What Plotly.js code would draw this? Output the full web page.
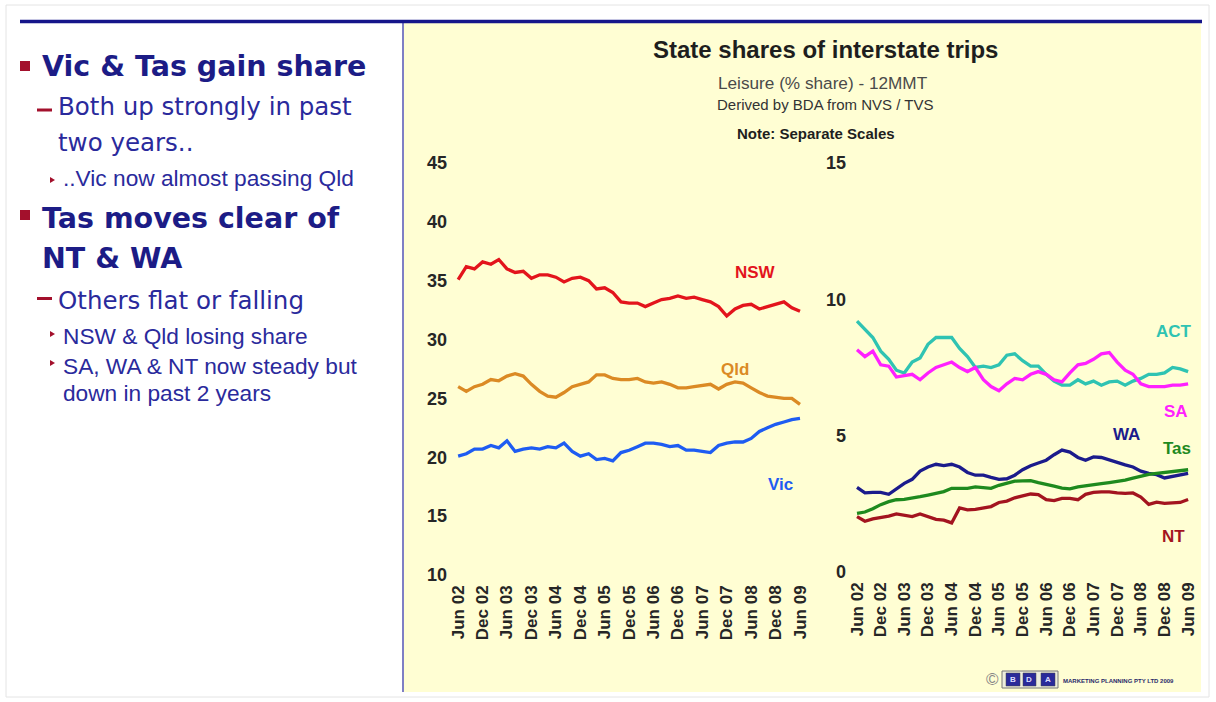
<!DOCTYPE html>
<html>
<head>
<meta charset="utf-8">
<script src="https://cdn.plot.ly/plotly-3.0.1.min.js"></script>
<style>html,body{margin:0;padding:0;background:#fff;}#chart{width:1216px;height:702px;}</style>
</head>
<body>
<div id="chart"></div>
<script>
// ---- data (bi-monthly readings, Jun 02 .. Jun 09) ----
const months = ["2002-06-01","2002-08-01","2002-10-01","2002-12-01","2003-02-01","2003-04-01","2003-06-01","2003-08-01","2003-10-01","2003-12-01","2004-02-01","2004-04-01","2004-06-01","2004-08-01","2004-10-01","2004-12-01","2005-02-01","2005-04-01","2005-06-01","2005-08-01","2005-10-01","2005-12-01","2006-02-01","2006-04-01","2006-06-01","2006-08-01","2006-10-01","2006-12-01","2007-02-01","2007-04-01","2007-06-01","2007-08-01","2007-10-01","2007-12-01","2008-02-01","2008-04-01","2008-06-01","2008-08-01","2008-10-01","2008-12-01","2009-02-01","2009-04-01","2009-06-01"];

const nsw = [35.1,36.2,36.0,36.6,36.4,36.8,36.0,35.7,35.8,35.2,35.5,35.5,35.3,34.9,35.2,35.3,35.0,34.3,34.4,34.0,33.2,33.1,33.1,32.8,33.1,33.4,33.5,33.7,33.5,33.6,33.4,33.2,32.8,32.0,32.6,32.9,33.0,32.6,32.8,33.0,33.2,32.7,32.4];
const qld = [26.0,25.6,26.0,26.2,26.6,26.5,26.9,27.1,26.9,26.2,25.6,25.2,25.1,25.5,26.0,26.2,26.4,27.0,27.0,26.7,26.6,26.6,26.7,26.4,26.3,26.4,26.2,25.9,25.9,26.0,26.1,26.2,25.8,26.2,26.4,26.3,25.9,25.5,25.2,25.1,25.0,25.0,24.5];
const vic = [20.1,20.3,20.7,20.7,21.0,20.8,21.4,20.5,20.7,20.8,20.7,20.9,20.8,21.2,20.5,20.1,20.3,19.8,19.9,19.7,20.4,20.6,20.9,21.2,21.2,21.1,20.9,21.0,20.6,20.6,20.5,20.4,21.0,21.2,21.3,21.3,21.6,22.2,22.5,22.8,23.0,23.2,23.3];

const act = [9.2,8.9,8.6,8.1,7.8,7.4,7.3,7.7,7.85,8.35,8.6,8.6,8.6,8.2,7.9,7.5,7.55,7.5,7.6,7.95,8.0,7.75,7.55,7.55,7.25,7.0,6.85,6.85,7.05,6.9,7.0,6.85,6.97,7.0,6.85,7.0,7.1,7.25,7.25,7.3,7.5,7.45,7.35];
const sa  = [8.15,7.9,8.1,7.6,7.55,7.15,7.2,7.25,7.05,7.3,7.5,7.6,7.7,7.5,7.35,7.5,7.05,6.8,6.65,6.9,7.1,7.05,7.25,7.35,7.25,7.05,6.97,7.3,7.6,7.65,7.8,8.0,8.05,7.7,7.4,7.25,6.9,6.8,6.8,6.8,6.85,6.85,6.9];
const wa  = [3.1,2.9,2.92,2.92,2.85,3.05,3.25,3.4,3.7,3.85,3.95,3.9,3.95,3.85,3.65,3.55,3.55,3.47,3.4,3.42,3.55,3.75,3.9,4.0,4.1,4.3,4.47,4.4,4.2,4.1,4.22,4.2,4.1,4.0,3.93,3.85,3.7,3.62,3.57,3.45,3.5,3.57,3.62];
const tas = [2.15,2.2,2.32,2.47,2.58,2.65,2.66,2.7,2.76,2.82,2.88,2.95,3.07,3.07,3.07,3.12,3.08,3.07,3.18,3.24,3.33,3.34,3.35,3.28,3.2,3.15,3.08,3.05,3.12,3.15,3.2,3.24,3.28,3.31,3.37,3.44,3.52,3.58,3.62,3.66,3.69,3.72,3.75];
const nt  = [2.03,1.86,1.95,2.0,2.05,2.13,2.08,2.03,2.13,2.03,1.93,1.9,1.8,2.35,2.28,2.3,2.34,2.4,2.55,2.6,2.72,2.78,2.86,2.84,2.65,2.62,2.7,2.7,2.65,2.85,2.92,2.94,2.94,2.9,2.88,2.9,2.75,2.48,2.56,2.52,2.52,2.55,2.66];

const tickDates  = ["2002-06-01","2002-12-01","2003-06-01","2003-12-01","2004-06-01","2004-12-01","2005-06-01","2005-12-01","2006-06-01","2006-12-01","2007-06-01","2007-12-01","2008-06-01","2008-12-01","2009-06-01"];
const tickLabels = ["Jun 02","Dec 02","Jun 03","Dec 03","Jun 04","Dec 04","Jun 05","Dec 05","Jun 06","Dec 06","Jun 07","Dec 07","Jun 08","Dec 08","Jun 09"];

const leftSeries  = [{name:"NSW", y:nsw, color:"#E3141C"},{name:"Qld", y:qld, color:"#DB8A24"},{name:"Vic", y:vic, color:"#1E5CF2"}];
const rightSeries = [{name:"ACT", y:act, color:"#2FC3B2"},{name:"SA", y:sa, color:"#FF20FF"},{name:"WA", y:wa, color:"#1B1B8C"},{name:"Tas", y:tas, color:"#1E8A1E"},{name:"NT", y:nt, color:"#A3141F"}];

// ---- layout helpers ----
const W = 1216, H = 702;
const X = p => p / W;
const Y = p => 1 - p / H;
const CH = "Liberation Sans, Arial, sans-serif";
const TXT = "DejaVu Sans, Verdana, sans-serif";

const traces = [];
leftSeries.forEach(s => traces.push({x: months, y: s.y, type: "scatter", mode: "lines", name: s.name,
  line: {color: s.color, width: 3.3}, xaxis: "x", yaxis: "y", hoverinfo: "skip"}));
rightSeries.forEach(s => traces.push({x: months, y: s.y, type: "scatter", mode: "lines", name: s.name,
  line: {color: s.color, width: 3.3}, xaxis: "x2", yaxis: "y2", hoverinfo: "skip"}));

const xCommon = {type: "date", range: ["2002-05-01","2009-07-01"], tickmode: "array", tickvals: tickDates, ticktext: tickLabels,
  tickangle: -90, tickfont: {family: CH, size: 17, color: "#262626", weight: "bold"}, showgrid: false, zeroline: false,
  showline: false, ticks: "", ticklabelstandoff: 6, fixedrange: true};
const yCommon = {dtick: 5, tickfont: {family: CH, size: 18, color: "#262626", weight: "bold"}, showgrid: false, zeroline: false,
  showline: false, ticks: "", ticklabelstandoff: 6, fixedrange: true};

const ann = [];
function t(text, px, py, size, color, opts) {
  ann.push(Object.assign({text: text, x: X(px), y: Y(py), xref: "paper", yref: "paper", showarrow: false,
    xanchor: "left", yanchor: "middle", font: {family: TXT, size: size, color: color}}, opts || {}));
}
const NAVY = "#1C1C86", NAVY2 = "#2A2A9C", RED = "#A3102C";
// left panel bullets
t("Vic &amp; Tas gain share", 40, 66, 28.5, NAVY, {font: {family: TXT, size: 28.5, color: NAVY, weight: "bold"}});
t("Both up strongly in past", 56, 107, 24.5, NAVY2);
t("two years..", 56, 142, 24.5, NAVY2);
t("..Vic now almost passing Qld", 61, 178, 22.7, NAVY2, {font: {family: CH, size: 22.7, color: NAVY2}});
t("Tas moves clear of", 40, 218, 28.5, NAVY, {font: {family: TXT, size: 28.5, color: NAVY, weight: "bold"}});
t("NT &amp; WA", 40, 258, 28.5, NAVY, {font: {family: TXT, size: 28.5, color: NAVY, weight: "bold"}});
t("Others flat or falling", 56, 300, 24.5, NAVY2);
t("NSW &amp; Qld losing share", 61, 336, 22.7, NAVY2, {font: {family: CH, size: 22.7, color: NAVY2}});
t("SA, WA &amp; NT now steady but", 61, 366, 22.7, NAVY2, {font: {family: CH, size: 22.7, color: NAVY2}});
t("down in past 2 years", 61, 393, 22.7, NAVY2, {font: {family: CH, size: 22.7, color: NAVY2}});

// chart titles
function c(text, px, py, size, color, bold) {
  ann.push({text: text, x: X(px), y: Y(py), xref: "paper", yref: "paper", showarrow: false, xanchor: "center", yanchor: "middle",
    font: {family: CH, size: size, color: color, weight: bold ? "bold" : "normal"}});
}
c("State shares of interstate trips", 825, 49, 24, "#1E1E1E", true);
c("Leisure (% share) - 12MMT", 823, 83, 17.2, "#4A4A4A", false);
c("Derived by BDA from NVS / TVS", 825, 104, 15, "#333333", false);
c("Note: Separate Scales", 816, 133, 15, "#1E1E1E", true);

// series labels
const seriesLabelPos = {NSW: [755, 272], Qld: [735, 369], Vic: [780, 485], ACT: [1174, 331], SA: [1176, 411], WA: [1126, 434], Tas: [1177, 448], NT: [1173, 536]};
leftSeries.concat(rightSeries).forEach(s => c(s.name, seriesLabelPos[s.name][0], seriesLabelPos[s.name][1], 17, s.color, true));

// logo
c("©", 992, 679, 17, "#888888", false);
c("B", 1013, 679, 8, "#DDDDFF", true);
c("D", 1029, 679, 8, "#DDDDFF", true);
c("A", 1048, 679, 8, "#DDDDFF", true);
ann.push({text: "MARKETING PLANNING PTY LTD 2009", x: X(1061), y: Y(681), xref: "paper", yref: "paper", showarrow: false,
  xanchor: "left", yanchor: "middle", font: {family: CH, size: 6, color: "#2A2A6A", weight: "bold"}});

const shapes = [
  {type: "rect", xref: "paper", yref: "paper", x0: X(6), x1: X(1209), y0: Y(5), y1: Y(697), line: {color: "#E4E4E4", width: 1}, fillcolor: "rgba(0,0,0,0)", layer: "below"},
  {type: "rect", xref: "paper", yref: "paper", x0: X(404), x1: X(1201), y0: Y(22), y1: Y(692), line: {width: 0}, fillcolor: "#FFFED3", layer: "below"},
  {type: "line", xref: "paper", yref: "paper", x0: X(403), x1: X(403), y0: Y(22), y1: Y(692), line: {color: "#7F7FC4", width: 2}, layer: "below"},
  {type: "line", xref: "paper", yref: "paper", x0: X(20), x1: X(1202), y0: Y(21.5), y1: Y(21.5), line: {color: "#15158A", width: 3.5}, layer: "below"},
  // bullets
  {type: "rect", xref: "paper", yref: "paper", x0: X(20), x1: X(30), y0: Y(61), y1: Y(71), line: {width: 0}, fillcolor: RED},
  {type: "rect", xref: "paper", yref: "paper", x0: X(20), x1: X(30), y0: Y(210), y1: Y(220), line: {width: 0}, fillcolor: RED},
  {type: "rect", xref: "paper", yref: "paper", x0: X(37), x1: X(52), y0: Y(108.5), y1: Y(111.5), line: {width: 0}, fillcolor: RED},
  {type: "rect", xref: "paper", yref: "paper", x0: X(37), x1: X(52), y0: Y(297), y1: Y(300), line: {width: 0}, fillcolor: RED},
  {type: "path", xref: "paper", yref: "paper", path: `M ${X(50)} ${Y(177)} L ${X(55)} ${Y(180)} L ${X(50)} ${Y(183)} Z`, line: {width: 0}, fillcolor: RED},
  {type: "path", xref: "paper", yref: "paper", path: `M ${X(50)} ${Y(331)} L ${X(55)} ${Y(334)} L ${X(50)} ${Y(337)} Z`, line: {width: 0}, fillcolor: RED},
  {type: "path", xref: "paper", yref: "paper", path: `M ${X(50)} ${Y(360)} L ${X(55)} ${Y(363)} L ${X(50)} ${Y(366)} Z`, line: {width: 0}, fillcolor: RED},
  // logo boxes
  {type: "rect", xref: "paper", yref: "paper", x0: X(1002), x1: X(1058), y0: Y(671), y1: Y(688), line: {color: "#777777", width: 1}, fillcolor: "#EDEDDD"},
  {type: "rect", xref: "paper", yref: "paper", x0: X(1006), x1: X(1020), y0: Y(673), y1: Y(686), line: {color: "#444", width: 0.5}, fillcolor: "#2A2A9A"},
  {type: "rect", xref: "paper", yref: "paper", x0: X(1023), x1: X(1036), y0: Y(673), y1: Y(686), line: {color: "#444", width: 0.5}, fillcolor: "#2A2A9A"},
  {type: "rect", xref: "paper", yref: "paper", x0: X(1041), x1: X(1055), y0: Y(673), y1: Y(686), line: {color: "#444", width: 0.5}, fillcolor: "#2A2A9A"}
];

const layout = {
  width: W, height: H, margin: {l: 0, r: 0, t: 0, b: 0, pad: 0},
  paper_bgcolor: "#FFFFFF", plot_bgcolor: "rgba(0,0,0,0)", showlegend: false,
  xaxis: Object.assign({}, xCommon, {domain: [X(454), X(804)], anchor: "y"}),
  yaxis: Object.assign({}, yCommon, {domain: [Y(575), Y(163)], range: [10, 45], anchor: "x"}),
  xaxis2: Object.assign({}, xCommon, {domain: [X(853), X(1192)], anchor: "y2"}),
  yaxis2: Object.assign({}, yCommon, {domain: [Y(572), Y(163)], range: [0, 15], anchor: "x2"}),
  annotations: ann, shapes: shapes
};
Plotly.newPlot("chart", traces, layout, {displayModeBar: false, staticPlot: true});
</script>
</body>
</html>
